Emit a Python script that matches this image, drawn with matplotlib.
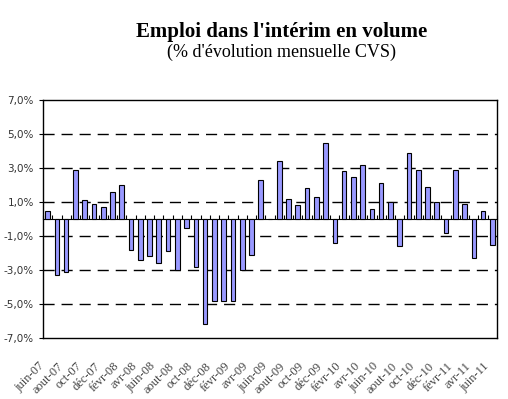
import numpy as np
import matplotlib
matplotlib.use("Agg")
import matplotlib.pyplot as plt
from matplotlib.transforms import ScaledTranslation

# mois de juin-07 a juin-11
mois = ["juin-07", "juil-07", "aout-07", "sept-07", "oct-07", "nov-07", "déc-07",
        "janv-08", "févr-08", "mars-08", "avr-08", "mai-08", "juin-08", "juil-08",
        "aout-08", "sept-08", "oct-08", "nov-08", "déc-08", "janv-09", "févr-09",
        "mars-09", "avr-09", "mai-09", "juin-09", "juil-09", "aout-09", "sept-09",
        "oct-09", "nov-09", "déc-09", "janv-10", "févr-10", "mars-10", "avr-10",
        "mai-10", "juin-10", "juil-10", "aout-10", "sept-10", "oct-10", "nov-10",
        "déc-10", "janv-11", "févr-11", "mars-11", "avr-11", "mai-11", "juin-11"]
evolution = [0.5, -3.3, -3.1, 2.9, 1.1, 0.9, 0.7, 1.6, 2.0, -1.8, -2.4, -2.2, -2.6,
             -1.9, -3.0, -0.5, -2.8, -6.2, -4.8, -4.8, -4.8, -3.0, -2.1, 2.3, 0.0,
             3.4, 1.2, 0.8, 1.8, 1.3, 4.5, -1.4, 2.8, 2.5, 3.2, 0.6, 2.1, 1.0, -1.6,
             3.9, 2.9, 1.9, 1.0, -0.8, 2.9, 0.9, -2.3, 0.5, -1.5]
yticks = [7, 5, 3, 1, -1, -3, -5, -7]

fig = plt.figure(figsize=(5.08, 3.99), dpi=100)
ax = fig.add_axes([43/508, 61/399, 454/508, 238/399])

x = np.arange(len(mois))
ax.bar(x, evolution, width=0.5, color="#9999ff", edgecolor="black", linewidth=0.8, zorder=3)

ax.set_xlim(-0.5, len(mois) - 0.5)
ax.set_ylim(-7, 7)

for v in [5, 3, 1, -1, -3, -5]:
    ax.axhline(v, color="black", linewidth=1, linestyle=(0, (8, 5)), zorder=1)

ax.set_yticks(yticks)
ax.set_yticklabels([("%.1f%%" % v).replace(".", ",") for v in yticks],
                   fontsize=7.5, color="#333333")
ax.tick_params(axis="y", direction="out", length=3, width=0.8)

ax.set_xticks(x[::2])
ax.set_xticklabels(mois[::2], rotation=45, ha="right", rotation_mode="anchor",
                   fontsize=9, family="Liberation Serif", color="#444444")
ax.tick_params(axis="x", length=0, pad=16)
decale = ScaledTranslation(-9/100, 0, fig.dpi_scale_trans)
for lab in ax.get_xticklabels():
    lab.set_transform(lab.get_transform() + decale)

for s in ax.spines.values():
    s.set_linewidth(1)

# axe horizontal a zero avec graduations entre les barres
zero = ax.secondary_xaxis(0.5)
zero.set_xticks(np.arange(len(mois) + 1) - 0.5)
zero.set_xticklabels([])
zero.tick_params(direction="out", length=3, width=0.8)
zero.spines["bottom"].set_linewidth(1)

fig.text(0.554, 0.92, "Emploi dans l'intérim en volume", ha="center", va="center",
         fontsize=15, fontweight="bold", family="Liberation Serif")
fig.text(0.554, 0.868, "(% d'évolution mensuelle CVS)", ha="center", va="center",
         fontsize=13, family="Liberation Serif")

fig.savefig("out.png", dpi=100)
